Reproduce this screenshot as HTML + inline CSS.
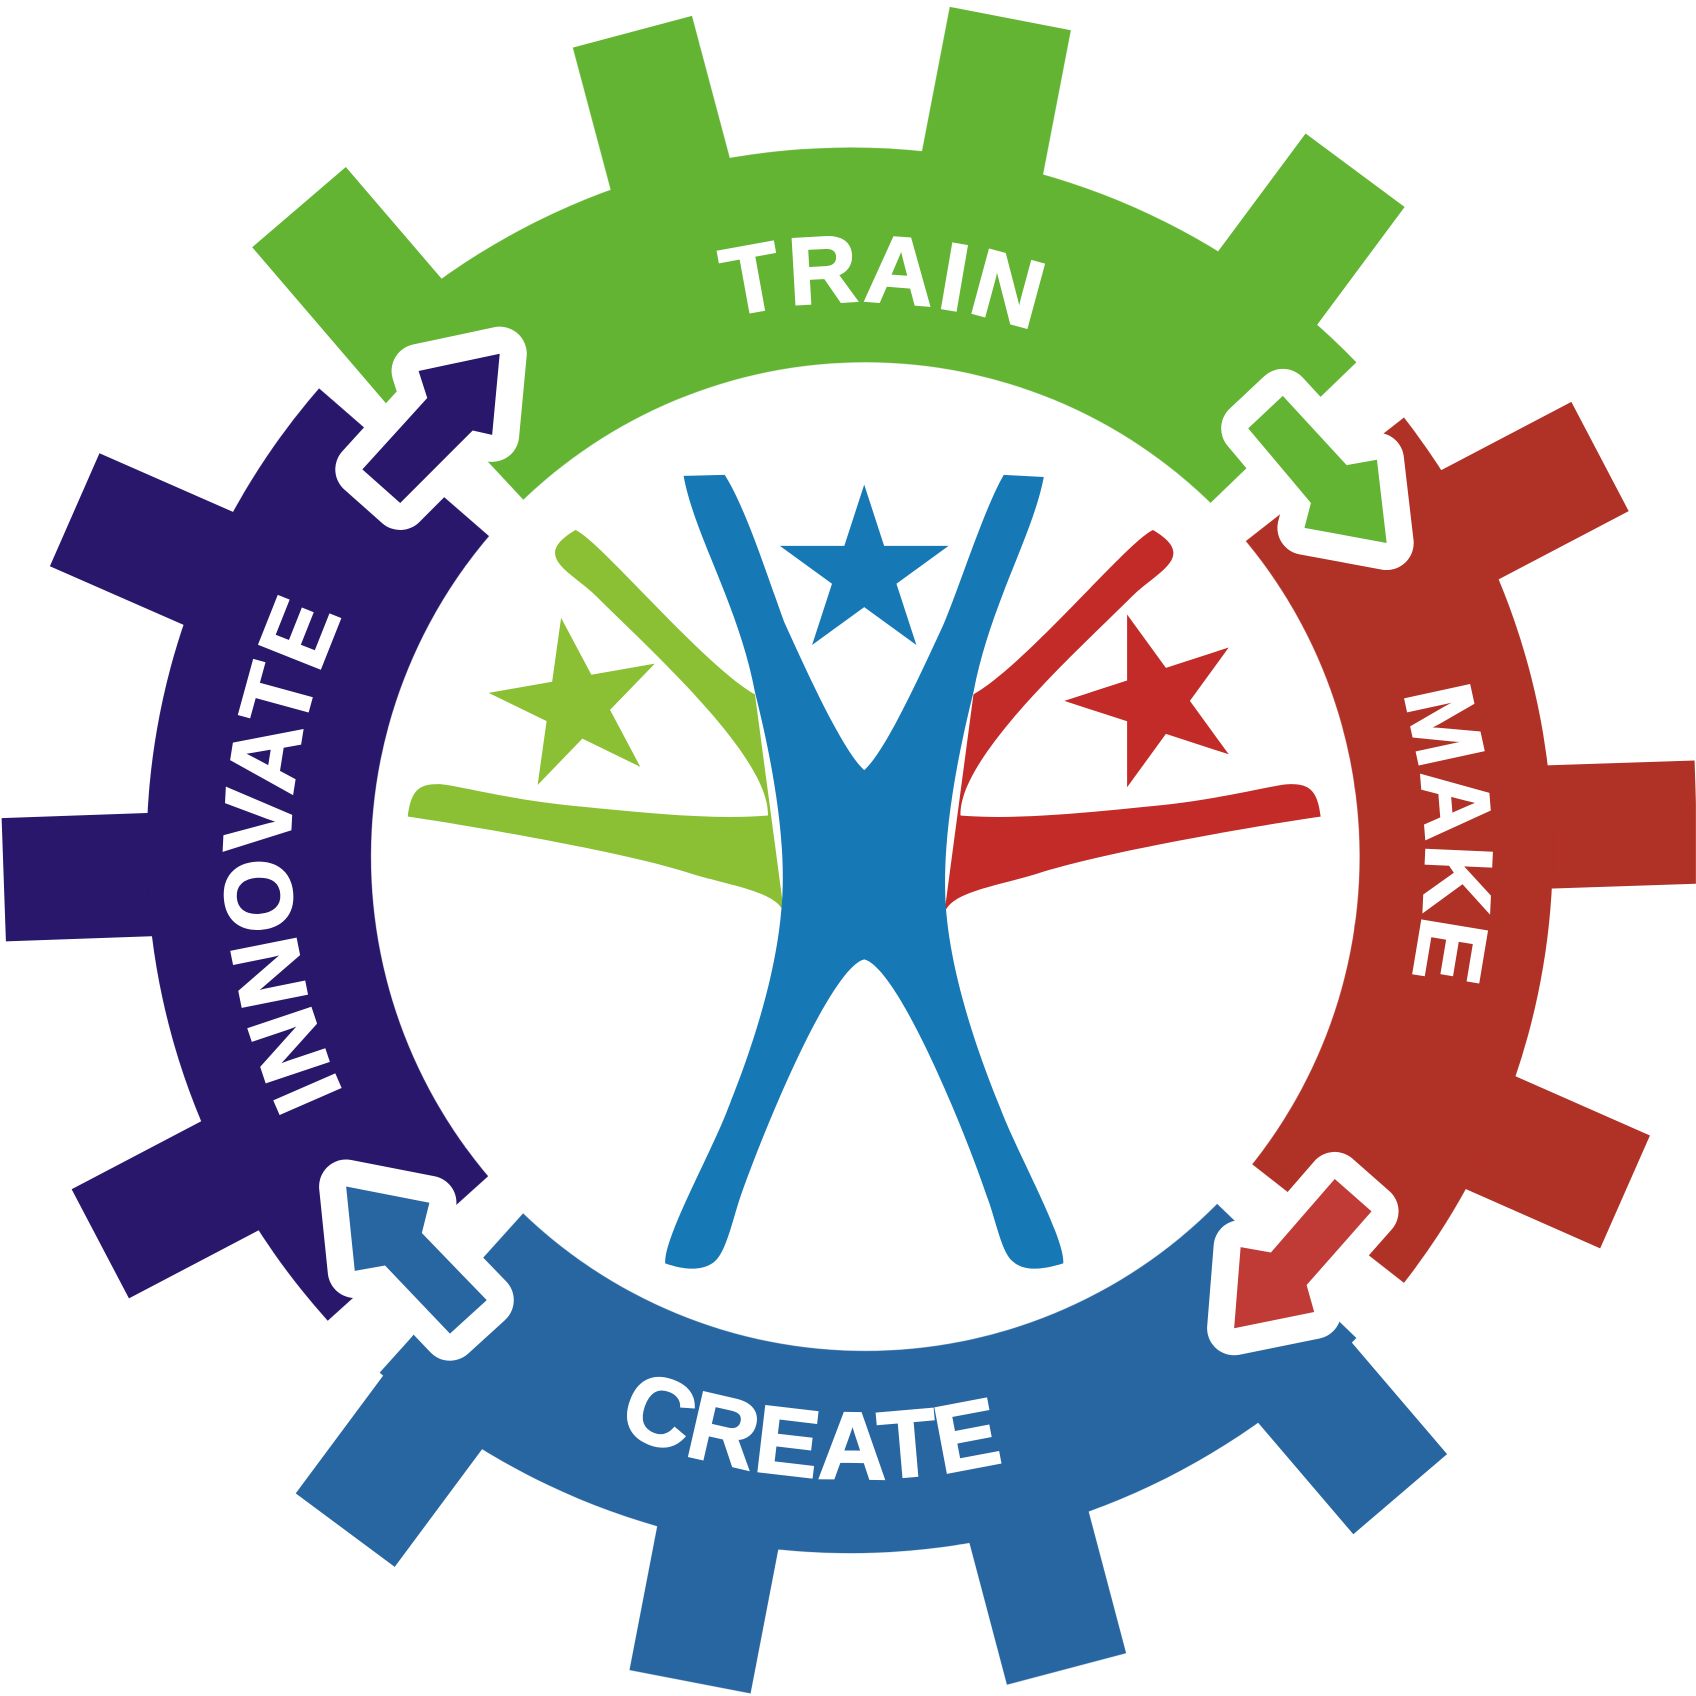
<!DOCTYPE html>
<html><head><meta charset="utf-8"><style>html,body{margin:0;padding:0;background:#fff}svg{display:block}</style></head><body>
<svg width="1696" height="1696" viewBox="0 0 1568 1568" xmlns="http://www.w3.org/2000/svg">
<defs>
<mask id="ring">
<rect width="1568" height="1568" fill="#fff"/>
<circle cx="800" cy="792" r="457" fill="#000"/>
</mask>
<path id="pTop" d="M 283 789 A 510 510 0 0 1 1303 789"/>
<path id="pLeft" d="M 793 1314 A 525 525 0 0 1 793 264"/>
<path id="pRight" d="M 793 264 A 525 525 0 0 1 793 1314"/>
<path id="pBot" d="M 215 789 A 578 578 0 0 0 1371 789"/>
</defs>
<g mask="url(#ring)">
<g transform="translate(786,786)">
<g fill="#62b432">
<rect x="-57" y="-783" width="114" height="190" transform="rotate(-40.6)"/>
<rect x="-57" y="-783" width="114" height="190" transform="rotate(-14.9)"/>
<rect x="-57" y="-783" width="114" height="190" transform="rotate(10.9)"/>
<rect x="-57" y="-783" width="114" height="190" transform="rotate(36.6)"/>
</g>
<g fill="#b03126">
<rect x="-57" y="-783" width="114" height="190" transform="rotate(62.3)"/>
<rect x="-57" y="-783" width="114" height="190" transform="rotate(88.1)"/>
<rect x="-57" y="-783" width="114" height="190" transform="rotate(113.8)"/>
</g>
<g fill="#2866a1">
<rect x="-57" y="-783" width="114" height="190" transform="rotate(139.5)"/>
<rect x="-57" y="-783" width="114" height="190" transform="rotate(165.2)"/>
<rect x="-57" y="-783" width="114" height="190" transform="rotate(190.9)"/>
<rect x="-57" y="-783" width="114" height="190" transform="rotate(216.6)"/>
</g>
<g fill="#29176b">
<rect x="-57" y="-783" width="114" height="190" transform="rotate(242.3)"/>
<rect x="-57" y="-783" width="114" height="190" transform="rotate(268)"/>
<rect x="-57" y="-783" width="114" height="190" transform="rotate(293.7)"/>
</g>
<path fill="#62b432" d="M0,0 L-443,-475 A650,650 0 0 1 468,-451 Z"/>
<path fill="#b03126" d="M0,0 L512,-400 A650,650 0 0 1 512,400 Z"/>
<path fill="#2866a1" d="M0,0 L468,451 A650,650 0 0 1 -435,483 Z"/>
<path fill="#29176b" d="M0,0 L-483,435 A650,650 0 0 1 -491,-427 Z"/>
</g>
</g>
<g stroke="#fff" stroke-width="50" stroke-linejoin="round" paint-order="stroke">
<polygon fill="#29176b" points="387,343 462,327 455,402 437,398 370,465 335,434 395,368"/>
<polygon fill="#62b432" points="1154,396 1186,366 1245,430 1273,425 1282,502 1206,488 1212,465"/>
<polygon fill="#c03a36" points="1234,1090 1268,1120 1208,1188 1215,1213 1141,1228 1147,1153 1175,1158"/>
<polygon fill="#2866a1" points="320,1097 397,1112 390,1140 450,1202 416,1233 356,1170 328,1175"/>
</g>
<g font-family="Liberation Sans, sans-serif" font-weight="bold" font-size="88" fill="#fff" stroke="#fff" stroke-width="2">
<text><textPath href="#pTop" startOffset="51.5%" text-anchor="middle" letter-spacing="4">TRAIN</textPath></text>
<text><textPath href="#pLeft" startOffset="50%" text-anchor="middle" letter-spacing="2">INNOVATE</textPath></text>
<text><textPath href="#pRight" startOffset="49%" text-anchor="middle" letter-spacing="2">MAKE</textPath></text>
<text><textPath href="#pBot" startOffset="47.5%" text-anchor="middle" letter-spacing="2">CREATE</textPath></text>
</g>
<path fill="#8bc035" d="M532,490 C555,500 650,615 698,642 L725,845 C720,825 680,820 640,808 C570,785 400,758 377,755 C380,730 388,725 405,725 C420,725 470,740 540,746 C600,752 660,758 710,754 C712,700 600,600 552,552 C528,528 490,515 532,490 Z"/>
<path fill="#c32b28" transform="translate(1598,0) scale(-1,1)" d="M532,490 C555,500 650,615 698,642 L725,845 C720,825 680,820 640,808 C570,785 400,758 377,755 C380,730 388,725 405,725 C420,725 470,740 540,746 C600,752 660,758 710,754 C712,700 600,600 552,552 C528,528 490,515 532,490 Z"/>
<path fill="#1679b6" d="M632,440 L670,439 C690,470 712,540 725,575 C750,630 780,695 799,712 C818,695 848,630 872,578 C888,540 910,470 928,439 L965,441 C955,495 915,560 900,640 C880,720 870,790 875,845 C882,920 915,1000 925,1025 C940,1065 985,1145 983,1168 C960,1175 945,1175 935,1165 C925,1155 920,1125 912,1105 C890,1040 830,895 799,887 C768,895 708,1040 685,1105 C678,1125 672,1155 662,1165 C652,1175 635,1175 615,1168 C613,1145 658,1065 673,1025 C683,1000 715,920 722,845 C728,790 718,720 698,640 C683,560 642,495 632,440 Z"/>
<polygon fill="#1679b6" transform="translate(799,530) scale(82)" points="0,-1 0.2245,-0.309 0.9511,-0.309 0.3633,0.118 0.5878,0.809 0,0.382 -0.5878,0.809 -0.3633,0.118 -0.9511,-0.309 -0.2245,-0.309"/>
<polygon fill="#8bc035" transform="translate(533,652) rotate(-10) scale(82)" points="0,-1 0.2245,-0.309 0.9511,-0.309 0.3633,0.118 0.5878,0.809 0,0.382 -0.5878,0.809 -0.3633,0.118 -0.9511,-0.309 -0.2245,-0.309"/>
<polygon fill="#c32b28" transform="translate(1068,648) rotate(-18) scale(84)" points="0,-1 0.2245,-0.309 0.9511,-0.309 0.3633,0.118 0.5878,0.809 0,0.382 -0.5878,0.809 -0.3633,0.118 -0.9511,-0.309 -0.2245,-0.309"/>
</svg>
</body></html>
